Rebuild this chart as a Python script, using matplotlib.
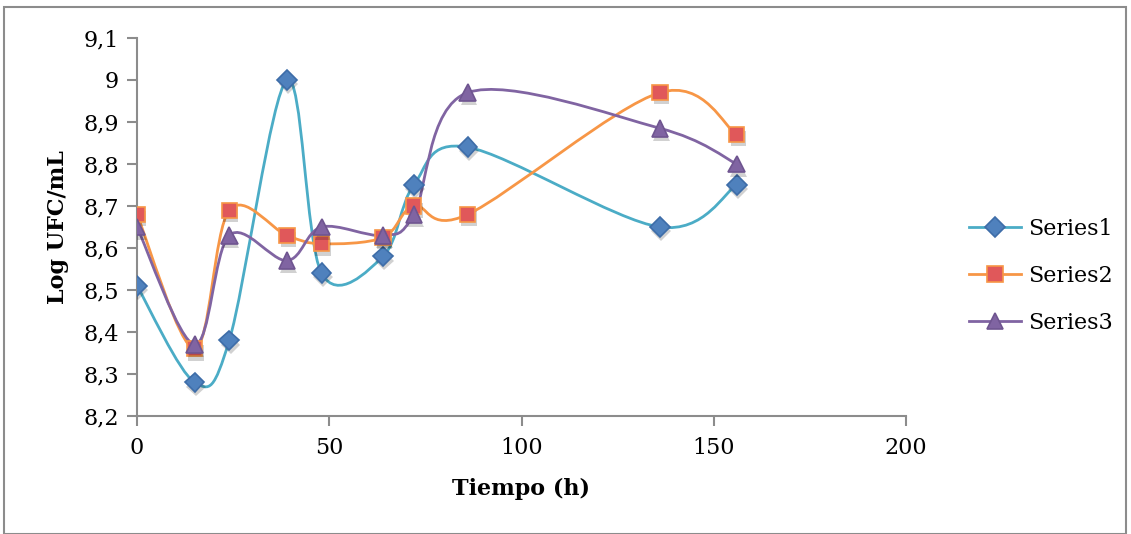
import matplotlib
matplotlib.use("Agg")
import matplotlib.pyplot as plt
from matplotlib.path import Path
from matplotlib.patches import PathPatch, Rectangle
import matplotlib.patheffects as pe
import numpy as np

plt.rcParams['font.family'] = ['DejaVu Serif', 'Liberation Serif']

tiempo = [0, 15, 24, 39, 48, 64, 72, 86, 136, 156]
series1 = [8.51, 8.28, 8.38, 9.00, 8.54, 8.58, 8.75, 8.84, 8.65, 8.75]
series2 = [8.68, 8.36, 8.69, 8.63, 8.61, 8.625, 8.70, 8.68, 8.97, 8.87]
series3 = [8.65, 8.37, 8.63, 8.57, 8.65, 8.63, 8.68, 8.97, 8.885, 8.80]
names = ['Series1', 'Series2', 'Series3']
yticks = [8.2, 8.3, 8.4, 8.5, 8.6, 8.7, 8.8, 8.9, 9.0, 9.1]
ytick_labels = ['8,2', '8,3', '8,4', '8,5', '8,6', '8,7', '8,8', '8,9', '9', '9,1']
xticks = [0, 50, 100, 150, 200]

line_colors = ['#4BACC6', '#F79646', '#8064A2']
marker_face = ['#4F81BD', '#E0585A', '#8064A2']
marker_edge = ['#3E6DA8', '#F79646', '#6F5590']
markers = ['D', 's', '^']
msizes = [10, 11, 12]


def smooth_path(x, y):
    x = np.asarray(x, float)
    y = np.asarray(y, float)
    pts = np.column_stack([x, y])
    n = len(pts)
    verts = [pts[0]]
    codes = [Path.MOVETO]
    for i in range(n - 1):
        p0 = pts[i - 1] if i > 0 else pts[i]
        p1 = pts[i]
        p2 = pts[i + 1]
        p3 = pts[i + 2] if i + 2 < n else pts[i + 1]
        c1 = p1 + (p2 - p0) / 6.0
        c2 = p2 - (p3 - p1) / 6.0
        verts += [c1, c2, p2]
        codes += [Path.CURVE4] * 3
    return Path(verts, codes)


fig = plt.figure(figsize=(11.31, 5.34), dpi=100)
ax = fig.add_axes([137 / 1131, 1 - 416 / 534, (906 - 137) / 1131, (416 - 38) / 534])

data = [series1, series2, series3]
handles = []
for k, ys in enumerate(data):
    patch = PathPatch(smooth_path(tiempo, ys), facecolor='none',
                      edgecolor=line_colors[k], lw=2.0, zorder=2 + k)
    ax.add_patch(patch)
for k, ys in enumerate(data):
    ax.plot(tiempo, ys, linestyle='none', marker=markers[k], ms=msizes[k],
            mfc=marker_face[k], mec=marker_edge[k], mew=1.2, zorder=6 + k,
            path_effects=[pe.SimplePatchShadow(offset=(1.0, -3.0), shadow_rgbFace='black',
                                               alpha=0.18), pe.Normal()])
    h, = ax.plot([], [], color=line_colors[k], lw=2.0, marker=markers[k],
                 ms=msizes[k], mfc=marker_face[k], mec=marker_edge[k], mew=1.2,
                 label=names[k])
    handles.append(h)

ax.set_xlim(0, 200)
ax.set_ylim(8.2, 9.1)
ax.set_xticks(xticks)
ax.set_xticklabels([str(t) for t in xticks])
ax.set_yticks(yticks)
ax.set_yticklabels(ytick_labels)
for s in ['top', 'right']:
    ax.spines[s].set_visible(False)
for s in ['left', 'bottom']:
    ax.spines[s].set_color('#8C8C8C')
    ax.spines[s].set_linewidth(1.5)
ax.tick_params(axis='both', colors='#8C8C8C', width=1.5, length=7,
               labelsize=16, labelcolor='black', direction='out')
ax.tick_params(axis='x', pad=8)
ax.tick_params(axis='y', pad=6)
ax.set_xlabel('Tiempo (h)', fontsize=16, fontweight='bold', labelpad=14)
ax.set_ylabel('Log UFC/mL', fontsize=16, fontweight='bold', labelpad=10)

leg = ax.legend(handles=handles, loc='center left', bbox_to_anchor=(1.056, 0.37),
                frameon=False, fontsize=16, handlelength=2.35, labelspacing=1.12,
                handletextpad=0.3)

fig.patches.append(Rectangle((4 / 1131, 0), 1122 / 1131, 1 - 7 / 534,
                             transform=fig.transFigure, fill=False,
                             edgecolor='#8C8C8C', lw=1.5))

fig.savefig('out.png', dpi=100)
